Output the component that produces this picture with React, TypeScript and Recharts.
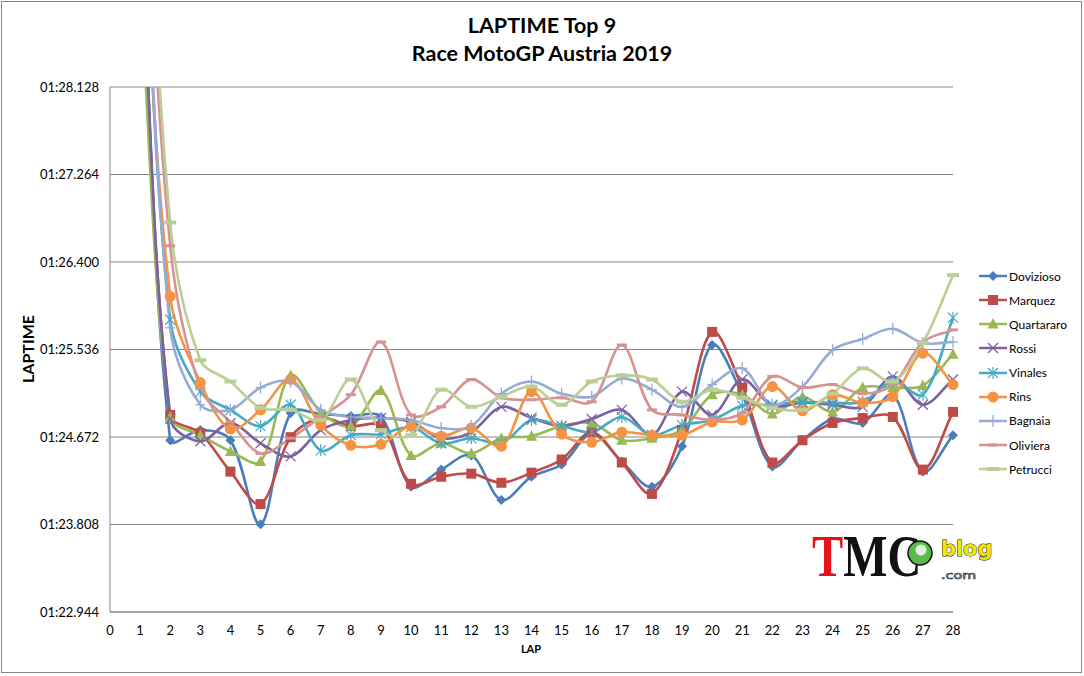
import React from 'react';
import { LineChart, Line, XAxis, YAxis, CartesianGrid, Legend } from 'recharts';

const FONT = 'Lato, "Open Sans", "DejaVu Sans", sans-serif';

const laps = [1, 2, 3, 4, 5, 6, 7, 8, 9, 10, 11, 12, 13, 14, 15, 16, 17, 18, 19, 20, 21, 22, 23, 24, 25, 26, 27, 28];

const dovizioso = [89.9, 84.64, 84.74, 84.64, 83.81, 84.91, 84.9, 84.88, 84.87, 84.18, 84.35, 84.49, 84.05, 84.28, 84.4, 84.7, 84.43, 84.18, 84.58, 85.58, 85.09, 84.38, 84.64, 84.85, 84.81, 85.09, 84.33, 84.69];
const marquez = [89.7, 84.89, 84.71, 84.33, 84.01, 84.67, 84.86, 84.78, 84.78, 84.21, 84.28, 84.31, 84.22, 84.32, 84.45, 84.72, 84.42, 84.11, 84.74, 85.71, 85.16, 84.42, 84.64, 84.81, 84.86, 84.87, 84.35, 84.92];
const quartararo = [89.1, 84.87, 84.69, 84.53, 84.43, 85.28, 84.92, 84.78, 85.13, 84.49, 84.61, 84.51, 84.66, 84.68, 84.78, 84.81, 84.64, 84.66, 84.74, 85.09, 85.09, 84.9, 85.07, 84.92, 85.16, 85.16, 85.18, 85.49];
const rossi = [89.8, 84.85, 84.63, 84.81, 84.61, 84.48, 84.74, 84.84, 84.86, 84.82, 84.66, 84.72, 84.97, 84.86, 84.78, 84.85, 84.94, 84.69, 85.12, 84.89, 85.24, 84.98, 85.01, 84.99, 84.97, 85.27, 84.99, 85.24];
const vinales = [90.5, 85.83, 85.12, 84.94, 84.78, 84.99, 84.54, 84.69, 84.7, 84.77, 84.61, 84.66, 84.61, 84.84, 84.78, 84.72, 84.87, 84.69, 84.79, 84.84, 84.98, 84.99, 85.02, 85.01, 85.02, 85.22, 85.09, 85.85];
const rins = [90.2, 86.06, 85.21, 84.75, 84.94, 85.24, 84.79, 84.59, 84.6, 84.78, 84.68, 84.76, 84.58, 85.12, 84.7, 84.62, 84.72, 84.69, 84.69, 84.82, 84.84, 85.17, 84.93, 85.09, 85.01, 85.07, 85.5, 85.19];
const bagnaia = [90.8, 85.75, 84.99, 84.94, 85.16, 85.22, 84.94, 84.87, 84.86, 84.84, 84.76, 84.78, 85.1, 85.22, 85.1, 85.07, 85.25, 85.14, 84.97, 85.19, 85.35, 84.99, 85.17, 85.53, 85.64, 85.74, 85.6, 85.61];
const oliviera = [91.2, 86.56, 85.15, 84.82, 84.51, 84.66, 84.87, 85.09, 85.61, 84.89, 84.97, 85.24, 85.06, 85.04, 85.06, 85.02, 85.58, 84.94, 84.89, 84.84, 84.91, 85.27, 85.16, 85.19, 85.1, 85.19, 85.61, 85.73];
const petrucci = [91.8, 86.79, 85.43, 85.22, 84.96, 84.94, 84.84, 85.24, 84.74, 84.69, 85.14, 84.97, 85.07, 85.17, 84.99, 85.22, 85.28, 85.24, 85.02, 85.14, 85.06, 84.96, 84.94, 85.1, 85.35, 85.22, 85.6, 86.27];

const yTicks = [82.944, 83.808, 84.672, 85.536, 86.4, 87.264, 88.128];
const xTicks = [0, 1, 2, 3, 4, 5, 6, 7, 8, 9, 10, 11, 12, 13, 14, 15, 16, 17, 18, 19, 20, 21, 22, 23, 24, 25, 26, 27, 28];

const series = [
  { key: 'Dovizioso', values: dovizioso, color: '#4A7EBB', marker: 'diamond' },
  { key: 'Marquez', values: marquez, color: '#BE4B48', marker: 'square' },
  { key: 'Quartararo', values: quartararo, color: '#98B954', marker: 'triangle' },
  { key: 'Rossi', values: rossi, color: '#7D60A0', marker: 'x' },
  { key: 'Vinales', values: vinales, color: '#46AAC5', marker: 'star' },
  { key: 'Rins', values: rins, color: '#F69240', marker: 'circle' },
  { key: 'Bagnaia', values: bagnaia, color: '#95ACD6', marker: 'plus' },
  { key: 'Oliviera', values: oliviera, color: '#D69392', marker: 'dash' },
  { key: 'Petrucci', values: petrucci, color: '#B9CF96', marker: 'dashWide' },
];

const data = laps.map((lap, i) => {
  const row: Record<string, number> = { lap };
  series.forEach((s) => {
    row[s.key] = s.values[i];
  });
  return row;
});

const fmtTime = (v: number) => {
  const m = Math.floor(v / 60);
  const s = v - m * 60;
  const sStr = s.toFixed(3);
  return `${String(m).padStart(2, '0')}:${sStr.length < 6 ? '0' + sStr : sStr}`;
};

// Excel-like smoothed line: Bezier with chord-length scaled tangents
const excelSmooth = (context: any) => {
  let pts: number[][] = [];
  const dist = (a: number[], b: number[]) => Math.hypot(b[0] - a[0], b[1] - a[1]);
  return {
    areaStart() {},
    areaEnd() {},
    lineStart() {
      pts = [];
    },
    point(x: number, y: number) {
      pts.push([+x, +y]);
    },
    lineEnd() {
      const n = pts.length;
      if (!n) return;
      context.moveTo(pts[0][0], pts[0][1]);
      for (let i = 0; i < n - 1; i++) {
        const p0 = pts[i > 0 ? i - 1 : i];
        const p1 = pts[i];
        const p2 = pts[i + 1];
        const p3 = pts[i + 2 < n ? i + 2 : i + 1];
        const d01 = dist(p0, p1);
        const d12 = dist(p1, p2);
        const d23 = dist(p2, p3);
        const f1 = d01 + d12 > 0 ? d12 / (3 * (d01 + d12)) : 0;
        const f2 = d12 + d23 > 0 ? d12 / (3 * (d12 + d23)) : 0;
        context.bezierCurveTo(
          p1[0] + (p2[0] - p0[0]) * f1,
          p1[1] + (p2[1] - p0[1]) * f1,
          p2[0] - (p3[0] - p1[0]) * f2,
          p2[1] - (p3[1] - p1[1]) * f2,
          p2[0],
          p2[1]
        );
      }
    },
  };
};

function Marker({ shape, cx, cy, color }: { shape: string; cx: number; cy: number; color: string }) {
  switch (shape) {
    case 'diamond':
      return <path d={`M${cx},${cy - 5}L${cx + 5},${cy}L${cx},${cy + 5}L${cx - 5},${cy}Z`} fill={color} />;
    case 'square':
      return <rect x={cx - 5} y={cy - 5} width={10} height={10} fill={color} />;
    case 'triangle':
      return <path d={`M${cx},${cy - 6}L${cx + 5.5},${cy + 4.5}L${cx - 5.5},${cy + 4.5}Z`} fill={color} />;
    case 'x':
      return (
        <g stroke={color} strokeWidth={1.2}>
          <line x1={cx - 5} y1={cy - 5} x2={cx + 5} y2={cy + 5} />
          <line x1={cx - 5} y1={cy + 5} x2={cx + 5} y2={cy - 5} />
        </g>
      );
    case 'star':
      return (
        <g stroke={color} strokeWidth={1.2}>
          <line x1={cx - 5} y1={cy - 5} x2={cx + 5} y2={cy + 5} />
          <line x1={cx - 5} y1={cy + 5} x2={cx + 5} y2={cy - 5} />
          <line x1={cx} y1={cy - 6} x2={cx} y2={cy + 6} />
        </g>
      );
    case 'circle':
      return <circle cx={cx} cy={cy} r={5.5} fill={color} />;
    case 'plus':
      return (
        <g stroke={color} strokeWidth={1.3}>
          <line x1={cx} y1={cy - 6} x2={cx} y2={cy + 6} />
          <line x1={cx - 5} y1={cy} x2={cx + 5} y2={cy} />
        </g>
      );
    case 'dash':
      return <rect x={cx - 5} y={cy - 1.5} width={10} height={3} fill={color} />;
    case 'dashWide':
      return <rect x={cx - 6} y={cy - 2} width={12} height={4} fill={color} />;
    default:
      return null;
  }
}

const renderLegend = (props: any) => {
  const payload = props.payload || [];
  const ordered = series.filter((s) =>
    payload.length === 0 ? true : payload.some((e: any) => e.dataKey === s.key || e.value === s.key)
  );
  return (
    <div style={{ fontFamily: FONT, fontSize: 12, color: '#000' }}>
      {ordered.map((s) => (
        <div key={s.key} style={{ display: 'flex', alignItems: 'center', height: 24.15 }}>
          <svg width={30} height={14} style={{ display: 'block' }}>
            <line x1={1} y1={7} x2={29} y2={7} stroke={s.color} strokeWidth={2.5} />
            <Marker shape={s.marker} cx={15} cy={7} color={s.color} />
          </svg>
          <span style={{ marginLeft: 1, whiteSpace: 'nowrap' }}>{s.key}</span>
        </div>
      ))}
    </div>
  );
};

export default function App() {
  return (
    <div style={{ position: 'fixed', left: 0, top: 0, width: 1084, height: 676, background: '#fff' }}>
      <LineChart
        width={1084}
        height={676}
        data={data}
        margin={{ top: 87, right: 131, bottom: 24, left: 10 }}
        style={{ position: 'absolute', left: 0, top: 0 }}
      >
        <CartesianGrid vertical={false} stroke="#868686" strokeWidth={1} />
        <XAxis
          type="number"
          dataKey="lap"
          domain={[0, 28]}
          ticks={xTicks}
          interval={0}
          height={40}
          tickLine={false}
          tickMargin={8}
          axisLine={{ stroke: '#868686', strokeWidth: 1 }}
          tick={{ fontFamily: FONT, fontSize: 13, fill: '#000' }}
          allowDecimals={false}
        />
        <YAxis
          type="number"
          domain={[82.944, 88.128]}
          ticks={yTicks}
          allowDataOverflow
          interval={0}
          width={100}
          tickLine={false}
          tickMargin={5}
          tickFormatter={fmtTime}
          axisLine={{ stroke: '#868686', strokeWidth: 1 }}
          tick={{ fontFamily: FONT, fontSize: 13, fill: '#000' }}
        />
        <Legend
          layout="vertical"
          align="center"
          verticalAlign="middle"
          wrapperStyle={{ left: 978, top: 264, width: 105, height: 220 }}
          content={renderLegend}
        />
        {series.map((s) => (
          <Line
            key={s.key}
            dataKey={s.key}
            name={s.key}
            type={excelSmooth as any}
            stroke={s.color}
            strokeWidth={2.6}
            isAnimationActive={false}
            activeDot={false}
            dot={(p: any) => (
              <Marker key={`${s.key}-${p.index}`} shape={s.marker} cx={p.cx} cy={p.cy} color={s.color} />
            )}
          />
        ))}
      </LineChart>
      <svg
        width={1084}
        height={676}
        style={{ position: 'absolute', left: 0, top: 0, pointerEvents: 'none' }}
      >
        <rect x={1.5} y={1.5} width={1080} height={671} fill="none" stroke="#868686" strokeWidth={1} />
        <text x={542} y={33} textAnchor="middle" fontFamily={FONT} fontWeight="bold" fontSize={21.5} fill="#000">
          LAPTIME Top 9
        </text>
        <text x={542} y={61} textAnchor="middle" fontFamily={FONT} fontWeight="bold" fontSize={21.5} fill="#000">
          Race MotoGP Austria 2019
        </text>
        <text
          x={0}
          y={0}
          transform="translate(34,349) rotate(-90)"
          textAnchor="middle"
          fontFamily={FONT}
          fontWeight="bold"
          fontSize={16}
          fill="#000"
        >
          LAPTIME
        </text>
        <text x={531} y={653} textAnchor="middle" fontFamily={FONT} fontWeight="bold" fontSize={11} fill="#000">
          LAP
        </text>
        <g>
          <text
            x={0}
            y={0}
            transform="translate(812,576) scale(0.78,1)"
            fontFamily='"Liberation Serif", serif'
            fontWeight="bold"
            fontSize={60}
            fill="#111"
          >
            <tspan fill="#E3131B">T</tspan>MC
          </text>
          <circle cx={920} cy={553} r={12} fill="#5BB84A" stroke="#111" strokeWidth={1.5} />
          <circle cx={921} cy={550} r={5.5} fill="#fff" opacity={0.8} />
          <text
            x={0}
            y={0}
            transform="translate(941,556) scale(0.95,1)"
            fontFamily='"DejaVu Sans", sans-serif'
            fontWeight="bold"
            fontSize={22}
            fill="#F2E600"
            stroke="#111"
            strokeWidth={1}
            style={{ paintOrder: 'stroke' }}
          >
            blog
          </text>
          <text
            x={0}
            y={0}
            transform="translate(941,579) scale(1.3,1)"
            fontFamily='"DejaVu Sans", sans-serif'
            fontSize={11}
            fill="#fff"
            stroke="#333"
            strokeWidth={0.7}
          >
            .com
          </text>
        </g>
      </svg>
    </div>
  );
}
